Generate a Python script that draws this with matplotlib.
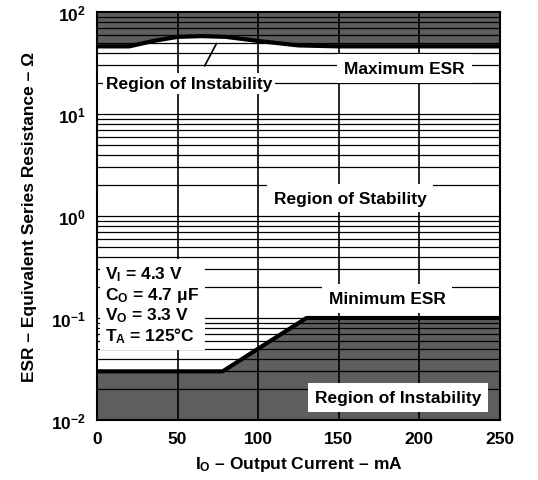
import numpy as np
import matplotlib
matplotlib.use("Agg")
import matplotlib.pyplot as plt

plt.rcParams['font.family'] = ['Liberation Sans', 'DejaVu Sans']
plt.rcParams['font.weight'] = 'bold'
plt.rcParams['mathtext.fontset'] = 'custom'
plt.rcParams['mathtext.rm'] = 'Liberation Sans:bold'
plt.rcParams['mathtext.it'] = 'Liberation Sans:bold'
plt.rcParams['mathtext.bf'] = 'Liberation Sans:bold'
plt.rcParams['mathtext.default'] = 'rm'

# Data
current_max = [0, 20, 35, 50, 65, 80, 100, 125, 150, 250]
esr_max = [46, 46, 52, 57, 58, 57, 52, 47, 46, 46]
current_min = [0, 78, 100, 130, 250]
esr_min = [0.03, 0.03, 0.05, 0.1, 0.1]
x_ticks = [0, 50, 100, 150, 200, 250]
y_ticks = [0.01, 0.1, 1, 10, 100]
y_tick_labels = ['10$^{-2}$', '10$^{-1}$', '10$^{0}$', '10$^{1}$', '10$^{2}$']

fig = plt.figure(figsize=(5.38, 4.81), dpi=100)
ax = fig.add_axes([0.1803, 0.1247, 0.929 - 0.1803, 0.973 - 0.1247])
ax.set_yscale('log')
ax.set_xlim(0, 250)
ax.set_ylim(0.01, 100)

shade = '#5e5e5e'
ax.fill_between(current_max, esr_max, 100, color=shade, zorder=1, lw=0)
ax.fill_between(current_min, 0.01, esr_min, color=shade, zorder=1, lw=0)

# grid lines
for d in [0.01, 0.1, 1, 10]:
    for m in range(1, 10):
        ax.axhline(d * m, color='black', lw=0.9, zorder=2)
for xv in [50, 100, 150, 200]:
    ax.axvline(xv, color='black', lw=1.2, zorder=2)

ax.plot(current_max, esr_max, color='black', lw=3, zorder=4, solid_capstyle='butt')
ax.plot(current_min, esr_min, color='black', lw=3, zorder=4, solid_capstyle='butt')

fs = 12.5
ax.text(57, 20, 'Region of Instability', ha='center', va='center', fontsize=fs,
        fontweight='bold', bbox=dict(facecolor='white', edgecolor='none', pad=2), zorder=5)
ax.annotate('', xy=(75, 52), xytext=(66, 28),
            arrowprops=dict(arrowstyle='-', color='black', lw=1.2), zorder=5)
ax.text(191, 28, 'Maximum ESR', ha='center', va='center', fontsize=fs,
        fontweight='bold', bbox=dict(facecolor='white', edgecolor='none', pad=5), zorder=5)
ax.text(157, 1.5, 'Region of Stability', ha='center', va='center', fontsize=fs,
        fontweight='bold', bbox=dict(facecolor='white', edgecolor='none', pad=5), zorder=5)
ax.text(180, 0.155, 'Minimum ESR', ha='center', va='center', fontsize=fs,
        fontweight='bold', bbox=dict(facecolor='white', edgecolor='none', pad=5), zorder=5)
ax.text(187, 0.0165, 'Region of Instability', ha='center', va='center', fontsize=fs,
        fontweight='bold', bbox=dict(facecolor='white', edgecolor='none', pad=5), zorder=5)
ax.text(5, 0.135, '$\\mathregular{V_I}$ = 4.3 V\n$\\mathregular{C_O}$ = 4.7 \u03bcF\n'
        '$\\mathregular{V_O}$ = 3.3 V\n$\\mathregular{T_A}$ = 125\u00b0C',
        ha='left', va='center', fontsize=fs, fontweight='bold', linespacing=1.1,
        bbox=dict(facecolor='white', edgecolor='none', pad=4), zorder=5)

ax.set_xticks(x_ticks)
ax.set_xticklabels([str(v) for v in x_ticks], fontsize=fs, fontweight='bold')
ax.set_yticks(y_ticks)
ax.set_yticklabels(y_tick_labels, fontsize=fs, fontweight='bold')
ax.yaxis.set_minor_locator(matplotlib.ticker.NullLocator())
ax.tick_params(axis='both', length=0, pad=8)
ax.set_xlabel('$\\mathregular{I_O}$ \u2013 Output Current \u2013 mA', fontsize=fs,
              fontweight='bold', labelpad=6)
ax.set_ylabel('ESR \u2013 Equivalent Series Resistance \u2013 \u03a9', fontsize=fs,
              fontweight='bold', labelpad=10)
for s in ax.spines.values():
    s.set_linewidth(1.5)
    s.set_zorder(6)

fig.savefig('out.png', dpi=100)
